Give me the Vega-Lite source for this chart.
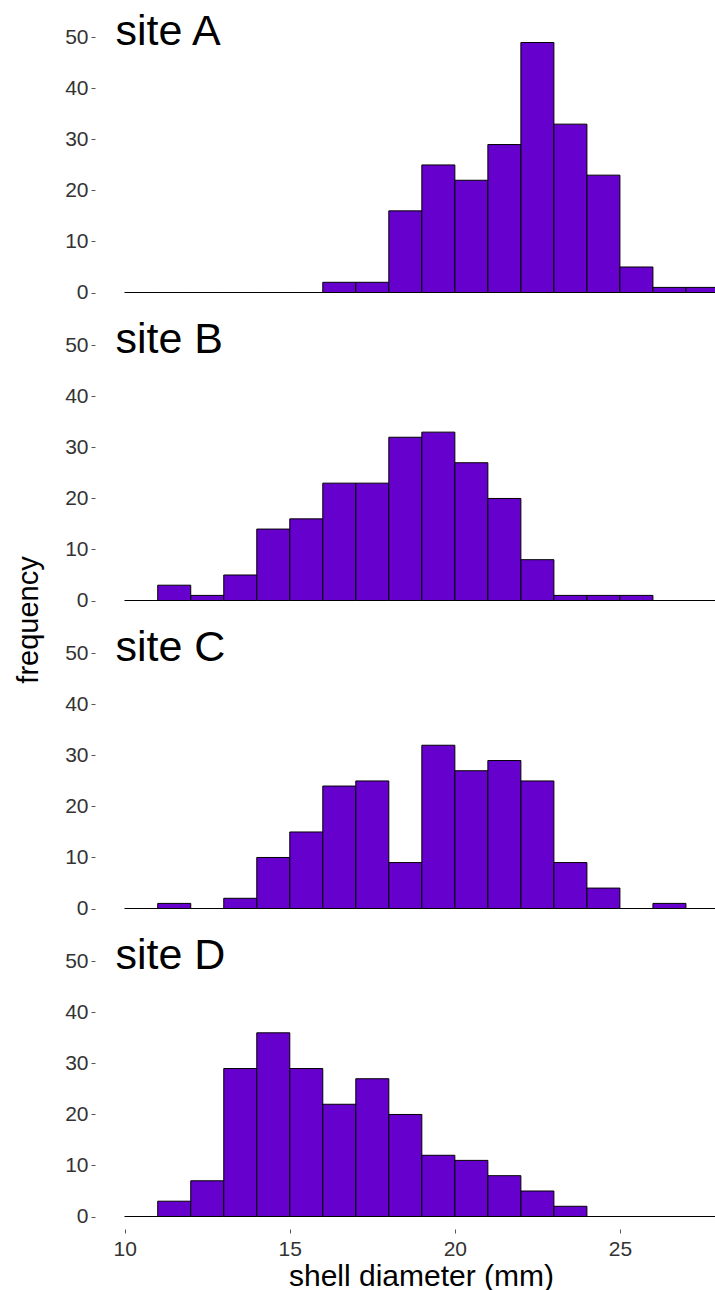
{
  "$schema": "https://vega.github.io/schema/vega-lite/v6.json",
  "padding": {"left": 14, "top": 10, "right": 0, "bottom": 0},
  "background": "white",
  "config": {"view": {"stroke": null}, "font": "Liberation Sans"},
  "data": {"values": [
    {"site": "site A", "bin_start": 10, "bin_end": 11, "count": 0},
    {"site": "site A", "bin_start": 11, "bin_end": 12, "count": 0},
    {"site": "site A", "bin_start": 12, "bin_end": 13, "count": 0},
    {"site": "site A", "bin_start": 13, "bin_end": 14, "count": 0},
    {"site": "site A", "bin_start": 14, "bin_end": 15, "count": 0},
    {"site": "site A", "bin_start": 15, "bin_end": 16, "count": 0},
    {"site": "site A", "bin_start": 16, "bin_end": 17, "count": 2},
    {"site": "site A", "bin_start": 17, "bin_end": 18, "count": 2},
    {"site": "site A", "bin_start": 18, "bin_end": 19, "count": 16},
    {"site": "site A", "bin_start": 19, "bin_end": 20, "count": 25},
    {"site": "site A", "bin_start": 20, "bin_end": 21, "count": 22},
    {"site": "site A", "bin_start": 21, "bin_end": 22, "count": 29},
    {"site": "site A", "bin_start": 22, "bin_end": 23, "count": 49},
    {"site": "site A", "bin_start": 23, "bin_end": 24, "count": 33},
    {"site": "site A", "bin_start": 24, "bin_end": 25, "count": 23},
    {"site": "site A", "bin_start": 25, "bin_end": 26, "count": 5},
    {"site": "site A", "bin_start": 26, "bin_end": 27, "count": 1},
    {"site": "site A", "bin_start": 27, "bin_end": 28, "count": 1},
    {"site": "site B", "bin_start": 10, "bin_end": 11, "count": 0},
    {"site": "site B", "bin_start": 11, "bin_end": 12, "count": 3},
    {"site": "site B", "bin_start": 12, "bin_end": 13, "count": 1},
    {"site": "site B", "bin_start": 13, "bin_end": 14, "count": 5},
    {"site": "site B", "bin_start": 14, "bin_end": 15, "count": 14},
    {"site": "site B", "bin_start": 15, "bin_end": 16, "count": 16},
    {"site": "site B", "bin_start": 16, "bin_end": 17, "count": 23},
    {"site": "site B", "bin_start": 17, "bin_end": 18, "count": 23},
    {"site": "site B", "bin_start": 18, "bin_end": 19, "count": 32},
    {"site": "site B", "bin_start": 19, "bin_end": 20, "count": 33},
    {"site": "site B", "bin_start": 20, "bin_end": 21, "count": 27},
    {"site": "site B", "bin_start": 21, "bin_end": 22, "count": 20},
    {"site": "site B", "bin_start": 22, "bin_end": 23, "count": 8},
    {"site": "site B", "bin_start": 23, "bin_end": 24, "count": 1},
    {"site": "site B", "bin_start": 24, "bin_end": 25, "count": 1},
    {"site": "site B", "bin_start": 25, "bin_end": 26, "count": 1},
    {"site": "site B", "bin_start": 26, "bin_end": 27, "count": 0},
    {"site": "site B", "bin_start": 27, "bin_end": 28, "count": 0},
    {"site": "site C", "bin_start": 10, "bin_end": 11, "count": 0},
    {"site": "site C", "bin_start": 11, "bin_end": 12, "count": 1},
    {"site": "site C", "bin_start": 12, "bin_end": 13, "count": 0},
    {"site": "site C", "bin_start": 13, "bin_end": 14, "count": 2},
    {"site": "site C", "bin_start": 14, "bin_end": 15, "count": 10},
    {"site": "site C", "bin_start": 15, "bin_end": 16, "count": 15},
    {"site": "site C", "bin_start": 16, "bin_end": 17, "count": 24},
    {"site": "site C", "bin_start": 17, "bin_end": 18, "count": 25},
    {"site": "site C", "bin_start": 18, "bin_end": 19, "count": 9},
    {"site": "site C", "bin_start": 19, "bin_end": 20, "count": 32},
    {"site": "site C", "bin_start": 20, "bin_end": 21, "count": 27},
    {"site": "site C", "bin_start": 21, "bin_end": 22, "count": 29},
    {"site": "site C", "bin_start": 22, "bin_end": 23, "count": 25},
    {"site": "site C", "bin_start": 23, "bin_end": 24, "count": 9},
    {"site": "site C", "bin_start": 24, "bin_end": 25, "count": 4},
    {"site": "site C", "bin_start": 25, "bin_end": 26, "count": 0},
    {"site": "site C", "bin_start": 26, "bin_end": 27, "count": 1},
    {"site": "site C", "bin_start": 27, "bin_end": 28, "count": 0},
    {"site": "site D", "bin_start": 10, "bin_end": 11, "count": 0},
    {"site": "site D", "bin_start": 11, "bin_end": 12, "count": 3},
    {"site": "site D", "bin_start": 12, "bin_end": 13, "count": 7},
    {"site": "site D", "bin_start": 13, "bin_end": 14, "count": 29},
    {"site": "site D", "bin_start": 14, "bin_end": 15, "count": 36},
    {"site": "site D", "bin_start": 15, "bin_end": 16, "count": 29},
    {"site": "site D", "bin_start": 16, "bin_end": 17, "count": 22},
    {"site": "site D", "bin_start": 17, "bin_end": 18, "count": 27},
    {"site": "site D", "bin_start": 18, "bin_end": 19, "count": 20},
    {"site": "site D", "bin_start": 19, "bin_end": 20, "count": 12},
    {"site": "site D", "bin_start": 20, "bin_end": 21, "count": 11},
    {"site": "site D", "bin_start": 21, "bin_end": 22, "count": 8},
    {"site": "site D", "bin_start": 22, "bin_end": 23, "count": 5},
    {"site": "site D", "bin_start": 23, "bin_end": 24, "count": 2},
    {"site": "site D", "bin_start": 24, "bin_end": 25, "count": 0},
    {"site": "site D", "bin_start": 25, "bin_end": 26, "count": 0},
    {"site": "site D", "bin_start": 26, "bin_end": 27, "count": 0},
    {"site": "site D", "bin_start": 27, "bin_end": 28, "count": 0}
  ]},
  "facet": {
    "row": {
      "field": "site",
      "type": "nominal",
      "header": {
        "labels": false,
        "title": "frequency",
        "titleFont": "Liberation Sans",
        "titleFontSize": 29,
        "titleFontWeight": "normal",
        "titleColor": "black",
        "titlePadding": 10
      }
    }
  },
  "spacing": {"row": 33},
  "bounds": "flush",
  "spec": {
    "width": 620,
    "height": 275,
    "layer": [
      {
        "mark": {"type": "bar", "fill": "#6600CC", "stroke": "black", "strokeWidth": 1, "clip": true},
        "encoding": {
          "x": {
            "field": "bin_start",
            "type": "quantitative",
            "scale": {"domain": [9.1, 27.88], "nice": false, "zero": false},
            "axis": {
              "values": [10, 15, 20, 25],
              "title": "shell diameter (mm)",
              "titleFont": "Liberation Sans",
              "titleFontSize": 30,
              "titleFontWeight": "normal",
              "titleColor": "black",
              "titleBaseline": "alphabetic",
              "titleX": 326,
              "titleY": 56,
              "labelFont": "Liberation Sans",
              "labelFontSize": 21,
              "labelColor": "#333333",
              "labelPadding": 5,
              "tickSize": 4,
              "tickColor": "#555555",
              "domain": false,
              "grid": false
            }
          },
          "x2": {"field": "bin_end"},
          "y": {
            "field": "count",
            "type": "quantitative",
            "scale": {"domain": [-2.45, 51.45], "nice": false, "zero": false},
            "axis": {
              "values": [0, 10, 20, 30, 40, 50],
              "title": null,
              "labelFont": "Liberation Sans",
              "labelFontSize": 21,
              "labelColor": "#333333",
              "labelPadding": 3,
              "tickSize": 4,
              "tickColor": "#555555",
              "domain": false,
              "grid": false
            }
          },
          "y2": {"datum": 0}
        }
      },
      {
        "transform": [{"aggregate": [{"op": "count", "as": "n"}], "groupby": ["site"]}],
        "mark": {"type": "text", "font": "Liberation Sans", "fontSize": 43, "align": "left", "baseline": "alphabetic", "color": "black"},
        "encoding": {
          "x": {"datum": 9.72},
          "y": {"datum": 48.6},
          "text": {"field": "site"}
        }
      }
    ]
  }
}
